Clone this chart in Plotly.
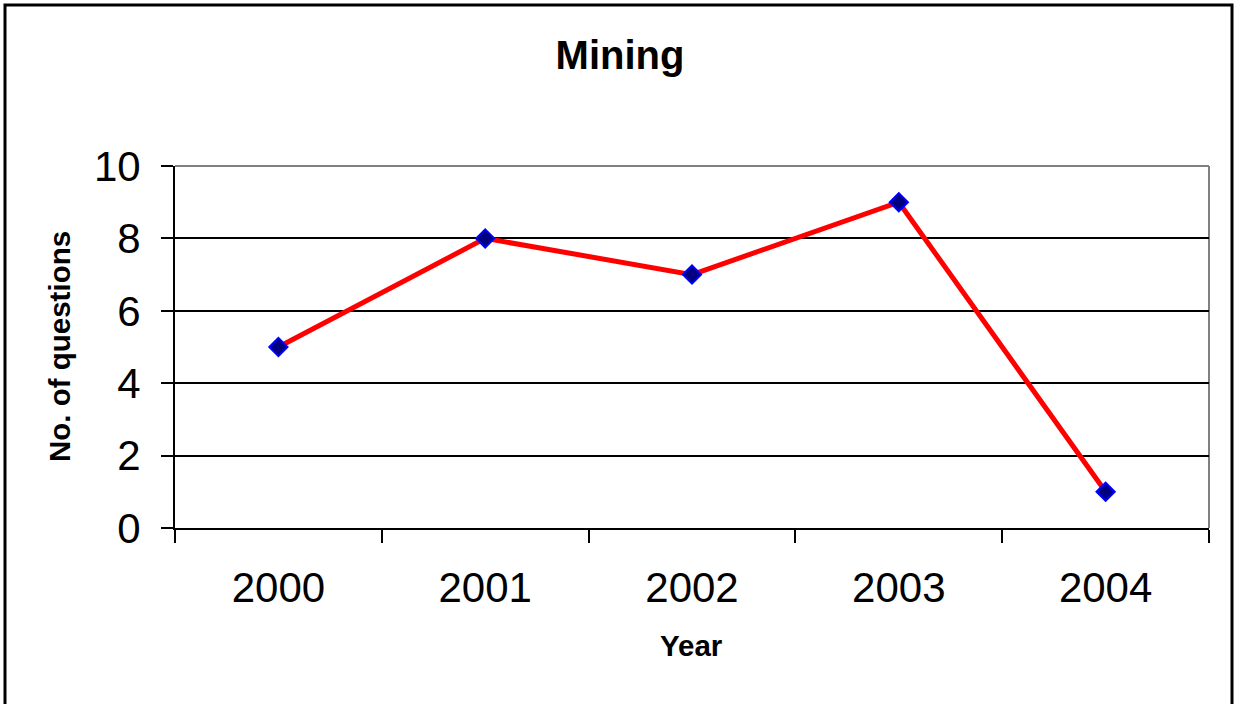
import plotly.graph_objects as go

years = ["2000", "2001", "2002", "2003", "2004"]
questions = [5, 8, 7, 9, 1]
y_ticks = [0, 2, 4, 6, 8, 10]

FONT = "Arial, Liberation Sans, sans-serif"

fig = go.Figure()
fig.add_trace(go.Scatter(
    x=years, y=questions, mode="lines+markers",
    line=dict(color="#FF0000", width=5),
    marker=dict(symbol="diamond", size=14, color="#000080",
                line=dict(color="#0000FF", width=2)),
    showlegend=False,
))

W, H = 1236, 704
L, R, T, B = 175, 27, 166, 176
pw, ph = W - L - R, H - T - B

def px(xp):
    return (xp - L) / pw

def py(yp):
    return (H - B - yp) / ph

fig.update_layout(
    width=W, height=H,
    margin=dict(l=L, r=R, t=T, b=B),
    paper_bgcolor="white", plot_bgcolor="white",
    font=dict(family=FONT, color="black"),
    title=dict(text="<b>Mining</b>", x=620 / W, xref="container", xanchor="center",
               y=1 - 55 / H, yref="container", yanchor="middle",
               font=dict(size=40, family=FONT, color="black")),
    xaxis=dict(type="category", range=[-0.5, 4.5], tickson="boundaries",
               ticks="outside", ticklen=13, tickwidth=2, tickcolor="black",
               showline=True, linecolor="black", linewidth=2, showgrid=False,
               tickfont=dict(size=42, family=FONT, color="black"),
               ticklabelstandoff=22, zeroline=False),
    yaxis=dict(range=[0, 10], tickvals=y_ticks, ticks="outside", ticklen=12,
               tickwidth=2, tickcolor="black", showline=True, linecolor="black",
               linewidth=2, showgrid=True, gridcolor="black", gridwidth=2,
               tickfont=dict(size=42, family=FONT, color="black"),
               ticklabelstandoff=12, zeroline=False),
    annotations=[
        dict(text="<b>No. of questions</b>", xref="paper", yref="paper",
             x=px(59), y=0.5, xanchor="center", yanchor="middle",
             textangle=-90, showarrow=False,
             font=dict(size=29.5, family=FONT, color="black")),
        dict(text="<b>Year</b>", xref="paper", yref="paper",
             x=px(691), y=py(645), xanchor="center", yanchor="middle",
             showarrow=False,
             font=dict(size=29.5, family=FONT, color="black")),
    ],
    shapes=[
        dict(type="line", xref="paper", yref="paper", x0=0, x1=1, y0=1, y1=1,
             line=dict(color="#808080", width=2), layer="above"),
        dict(type="line", xref="paper", yref="paper", x0=1, x1=1, y0=0, y1=1,
             line=dict(color="#808080", width=2), layer="below"),
        dict(type="rect", xref="paper", yref="paper",
             x0=px(5), x1=px(1232), y0=py(5), y1=py(720),
             line=dict(color="black", width=3), fillcolor="rgba(0,0,0,0)",
             layer="above"),
    ],
)

fig.write_html("out.html", config={"displayModeBar": False},
               post_script="document.body.style.margin='0';document.body.style.overflow='hidden';")
